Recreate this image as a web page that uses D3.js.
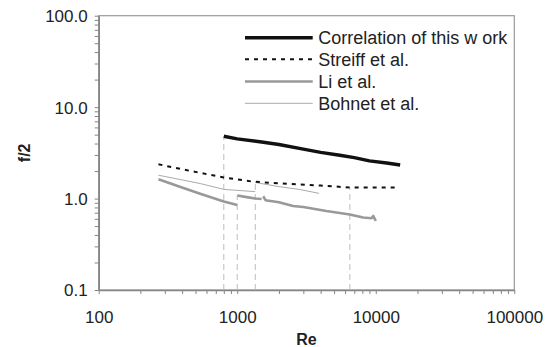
<!DOCTYPE html>
<html>
<head>
<meta charset="utf-8">
<script src="https://cdn.jsdelivr.net/npm/d3@7"></script>
<style>
  html, body { margin: 0; padding: 0; background: #fff; }
  svg { display: block; font-family: "Liberation Sans", Arial, sans-serif; }
</style>
</head>
<body>
<svg id="chart" width="555" height="347"></svg>
<script>
// ─── Data (Re, f/2) ────────────────────────────────────────────────────────
const correlation = [[800, 4.8], [1000, 4.5], [1500, 4.15], [2000, 3.9], [3000, 3.47],
  [4000, 3.2], [5500, 2.98], [7000, 2.8], [9000, 2.58], [12000, 2.45], [15000, 2.33]];
const streiff = [[270, 2.37], [400, 2.09], [600, 1.85], [800, 1.7], [1000, 1.62], [1300, 1.53],
  [2000, 1.47], [2800, 1.43], [4000, 1.39], [6500, 1.32], [14000, 1.32]];
const liLaminar = [[270, 1.63], [385, 1.35], [540, 1.13], [800, 0.93], [1000, 0.85]];
const liTransition = [[1000, 1.08], [1200, 1.03], [1350, 1.0], [1500, 0.99]];
const liTurbulent = [[1540, 1.06], [1600, 0.96], [2000, 0.91], [2530, 0.83], [3000, 0.81],
  [4400, 0.73], [6500, 0.67], [8100, 0.62], [9300, 0.61], [9600, 0.645], [10000, 0.57]];
const bohnetLow = [[270, 1.8], [400, 1.6], [540, 1.46], [800, 1.26], [1000, 1.23], [1350, 1.19]];
const bohnetHigh = [[1350, 1.5], [2000, 1.35], [2800, 1.26], [3900, 1.14]];
// regime limits (dashed verticals): Re and the f/2 value they reach up to
const limits = [[800, 4.8], [1000, 1.08], [1350, 1.5], [6500, 1.32]];

const xDomain = [100, 100000];
const yDomain = [0.1, 100];
const legendLabels = ["Correlation of this w ork", "Streiff et al.", "Li et al.", "Bohnet et al."];

// ─── Layout ────────────────────────────────────────────────────────────────
const PLOT = { left: 98.7, right: 514.3, top: 15.7, bottom: 290 };
const TEXT = "#222";
const AXIS = "#858585";

const svg = d3.select("#chart");
const x = d3.scaleLog().domain(xDomain).range([PLOT.left, PLOT.right]);
const y = d3.scaleLog().domain(yDomain).range([PLOT.bottom, PLOT.top]);

// frame
svg.append("rect")
  .attr("x", PLOT.left).attr("y", PLOT.top)
  .attr("width", PLOT.right - PLOT.left).attr("height", PLOT.bottom - PLOT.top)
  .attr("fill", "none").attr("stroke", "#9a9a9a").attr("stroke-width", 1.2);

// ── Axes ──────────────────────────────────────────────────────────────────
const isDecade = v => Math.abs(Math.log10(v) - Math.round(Math.log10(v))) < 1e-9;

const xAxis = d3.axisBottom(x).tickSize(4).tickSizeOuter(0)
  .tickValues(x.ticks())
  .tickFormat(v => isDecade(v) ? d3.format("d")(v) : "");
const yAxis = d3.axisLeft(y).tickSize(4).tickSizeOuter(0)
  .tickValues(y.ticks())
  .tickFormat(v => isDecade(v) ? d3.format(".1f")(v) : "");

const gx = svg.append("g").attr("transform", `translate(0,${PLOT.bottom})`).call(xAxis);
const gy = svg.append("g").attr("transform", `translate(${PLOT.left},0)`).call(yAxis);

[gx, gy].forEach(g => {
  g.select(".domain").attr("stroke", AXIS).attr("stroke-width", 1.6);
  g.selectAll(".tick line").attr("stroke", AXIS).attr("stroke-width", 1);
  g.selectAll(".tick text")
    .attr("fill", TEXT).attr("font-size", "17px")
    .attr("font-family", "Liberation Sans, Arial, sans-serif");
});
gx.selectAll(".tick text").attr("dy", null).attr("y", 32.5);
gy.selectAll(".tick text").attr("x", -11).attr("dy", "0.35em");

// axis titles
svg.append("text")
  .attr("x", (PLOT.left + PLOT.right) / 2).attr("y", 345)
  .attr("text-anchor", "middle").attr("font-size", "16px").attr("font-weight", "700")
  .attr("fill", TEXT).text("Re");
svg.append("text")
  .attr("transform", `translate(30,${(PLOT.top + PLOT.bottom) / 2}) rotate(-90)`)
  .attr("text-anchor", "middle").attr("font-size", "16px").attr("font-weight", "700")
  .attr("fill", TEXT).text("f/2");

// ── Regime limits ─────────────────────────────────────────────────────────
svg.append("g").selectAll("line").data(limits).join("line")
  .attr("x1", d => x(d[0])).attr("x2", d => x(d[0]))
  .attr("y1", y(yDomain[0])).attr("y2", d => y(d[1]))
  .attr("stroke", "#bdbdbd").attr("stroke-width", 1)
  .attr("stroke-dasharray", "6,4");

// ── Series ────────────────────────────────────────────────────────────────
const line = d3.line().x(d => x(d[0])).y(d => y(d[1]));

const STYLES = [
  { color: "#111", width: 3.4, dash: null },
  { color: "#111", width: 2, dash: "4,5" },
  { color: "#999", width: 2.6, dash: null },
  { color: "#aaa", width: 1, dash: null },
];
const series = [
  { style: STYLES[0], segs: [correlation] },
  { style: STYLES[1], segs: [streiff] },
  { style: STYLES[2], segs: [liLaminar, liTransition, liTurbulent] },
  { style: STYLES[3], segs: [bohnetLow, bohnetHigh] },
];

series.slice().reverse().forEach(s => {
  s.segs.forEach(seg => {
    svg.append("path")
      .attr("d", line(seg))
      .attr("fill", "none")
      .attr("stroke", s.style.color)
      .attr("stroke-width", s.style.width)
      .attr("stroke-dasharray", s.style.dash)
      .attr("stroke-linejoin", "round");
  });
});

// ── Legend ────────────────────────────────────────────────────────────────
const legend = svg.append("g");
const rowsY = [37.7, 59.3, 81.5, 103.3];
legendLabels.forEach((lbl, i) => {
  const st = STYLES[i];
  legend.append("line")
    .attr("x1", 245).attr("x2", 312.7).attr("y1", rowsY[i]).attr("y2", rowsY[i])
    .attr("stroke", st.color).attr("stroke-width", st.width)
    .attr("stroke-dasharray", st.dash);
  legend.append("text")
    .attr("x", 318.3).attr("y", rowsY[i]).attr("dy", "0.35em")
    .attr("font-size", "18px").attr("fill", TEXT).text(lbl);
});
</script>
</body>
</html>
